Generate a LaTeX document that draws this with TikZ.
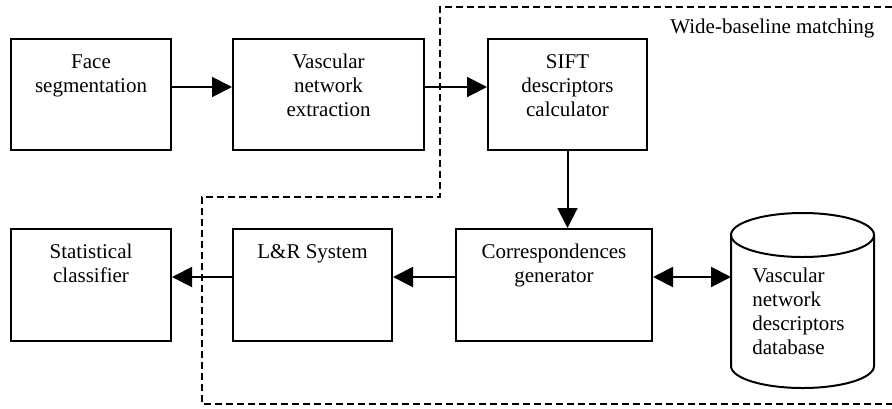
\documentclass[tikz,border=0pt]{standalone}
\usepackage{fontspec}
\setmainfont{Liberation Serif}
\usetikzlibrary{arrows.meta}

\begin{document}
\begin{tikzpicture}[
    x=0.5pt, y=-0.5pt,
    >={Triangle[length=10pt, width=10pt]},
    block/.style={draw, line width=1pt, minimum width=80pt, minimum height=55.5pt,
                  inner sep=0pt},
    lbl/.style={anchor=north, align=center, inner sep=0pt,
                font=\fontsize{10.5pt}{12pt}\selectfont},
    flow/.style={->, line width=1pt},
    region/.style={line width=0.9pt, dash pattern=on 3.5pt off 2pt}
  ]
    \useasboundingbox (0,0) rectangle (892,408);

    % wide-baseline matching area
    \draw[region] (892,7) -- (440,7) -- (440,197) -- (202,197) -- (202,404) -- (892,404);
    \node[lbl, anchor=base west] (wbm) at (670,33) {Wide-baseline matching};

    % top row
    \node[block] (face) at (91,94.5) {};
    \node[block, minimum width=95.5pt] (vasc) at (328.5,94.5) {};
    \node[block, minimum width=79.5pt] (sift) at (567.5,94.5) {};
    \node[lbl] (face-t) at ([yshift=-8pt]face.north) {Face\\segmentation};
    \node[lbl] (vasc-t) at ([yshift=-8pt]vasc.north) {Vascular\\network\\extraction};
    \node[lbl] (sift-t) at ([yshift=-8pt]sift.north) {SIFT\\descriptors\\calculator};

    % bottom row
    \node[block, minimum height=56pt] (stat) at (91,285) {};
    \node[block, minimum width=79.5pt, minimum height=56pt] (lr) at (312.5,285) {};
    \node[block, minimum width=98pt, minimum height=56pt] (corr) at (554,285) {};
    \node[lbl] (stat-t) at ([yshift=-8pt]stat.north) {Statistical\\classifier};
    \node[lbl] (lr-t) at ([yshift=-8pt]lr.north) {L\&R System};
    \node[lbl] (corr-t) at ([yshift=-8pt]corr.north) {Correspondences\\generator};

    % database
    \draw[line width=1pt] (802.5,235) ellipse (35.75pt and 11pt);
    \draw[line width=1pt] (731,235) -- (731,366) arc (180:360:35.75pt and 11pt) -- (874,235);
    \coordinate (db) at (731,277);
    \node[lbl, anchor=north west, align=left] (db-t) at (752,268)
      {Vascular\\network\\descriptors\\database};

    % connections
    \draw[flow] ([yshift=3.75pt]face.east) -- ([yshift=3.75pt]vasc.west);
    \draw[flow] ([yshift=3.75pt]vasc.east) -- ([yshift=3.75pt]sift.west);
    \draw[flow] (sift.south) -- (sift.south |- corr.north);
    \draw[flow] ([yshift=4pt]corr.west) -- ([yshift=4pt]lr.east);
    \draw[flow] ([yshift=4pt]lr.west) -- ([yshift=4pt]stat.east);
    \draw[flow, <->] ([yshift=4pt]corr.east) -- (db);
  \end{tikzpicture}
\end{document}
